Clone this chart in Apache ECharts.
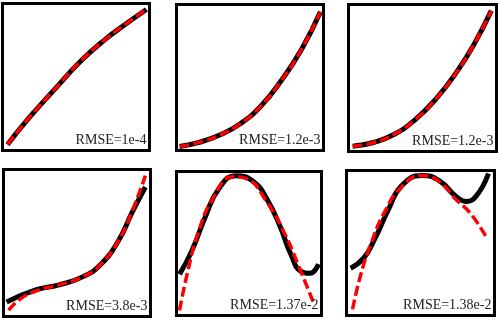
<!DOCTYPE html>
<html>
<head>
<meta charset="utf-8">
<script src="https://cdn.jsdelivr.net/npm/echarts@6/dist/echarts.min.js"></script>
<style>
  html, body { margin: 0; padding: 0; background: #fff; }
  #main { width: 498px; height: 320px; }
</style>
</head>
<body>
<div id="main"></div>
<script>
// curves, normalised to each box (x 0..1, y 0..1)
var truthA = [[0.034, 0.041], [0.186, 0.228], [0.359, 0.421], [0.531, 0.607], [0.703, 0.759], [0.841, 0.862], [0.979, 0.959]];
var fitA = [[0.034, 0.041], [0.186, 0.228], [0.359, 0.421], [0.531, 0.607], [0.703, 0.759], [0.841, 0.862], [0.979, 0.959]];

var truthB = [[0.021, 0.028], [0.154, 0.056], [0.294, 0.106], [0.434, 0.183], [0.573, 0.303], [0.713, 0.479], [0.853, 0.697], [0.979, 0.951]];
var fitB = [[0.021, 0.028], [0.154, 0.056], [0.294, 0.106], [0.434, 0.183], [0.573, 0.303], [0.713, 0.479], [0.853, 0.697], [0.979, 0.951]];

var truthC = [[0.028, 0.035], [0.174, 0.063], [0.313, 0.119], [0.451, 0.217], [0.590, 0.357], [0.729, 0.538], [0.847, 0.727], [0.965, 0.958]];
var fitC = [[0.028, 0.035], [0.174, 0.063], [0.313, 0.119], [0.451, 0.217], [0.590, 0.357], [0.729, 0.538], [0.847, 0.727], [0.965, 0.958]];

var truthD = [[0.021, 0.098], [0.224, 0.182], [0.385, 0.217], [0.545, 0.273], [0.664, 0.357], [0.783, 0.517], [0.874, 0.706], [0.965, 0.881]];
var fitD = [[0.035, 0.042], [0.105, 0.112], [0.224, 0.175], [0.385, 0.217], [0.545, 0.273], [0.664, 0.357], [0.783, 0.517], [0.874, 0.713], [0.965, 0.958]];

var truthE = [[0.021, 0.286], [0.106, 0.450], [0.199, 0.686], [0.291, 0.879], [0.411, 0.971], [0.532, 0.929], [0.624, 0.807], [0.716, 0.614], [0.787, 0.429], [0.858, 0.307], [0.922, 0.293], [0.979, 0.357]];
var fitE = [[0.021, 0.036], [0.078, 0.307], [0.149, 0.571], [0.248, 0.807], [0.390, 0.964], [0.482, 0.950], [0.624, 0.786], [0.745, 0.571], [0.837, 0.357], [0.943, 0.093]];

var truthF = [[0.028, 0.326], [0.117, 0.397], [0.186, 0.518], [0.283, 0.730], [0.372, 0.894], [0.510, 0.965], [0.628, 0.929], [0.738, 0.823], [0.807, 0.787], [0.876, 0.823], [0.959, 0.979]];
var fitF = [[0.041, 0.043], [0.097, 0.284], [0.166, 0.496], [0.255, 0.709], [0.372, 0.887], [0.510, 0.965], [0.628, 0.922], [0.738, 0.801], [0.834, 0.709], [0.945, 0.539]];

var labels = ['RMSE=1e-4', 'RMSE=1.2e-3', 'RMSE=1.2e-3', 'RMSE=3.8e-3', 'RMSE=1.37e-2', 'RMSE=1.38e-2'];

var truths = [truthA, truthB, truthC, truthD, truthE, truthF];
var fits = [fitA, fitB, fitC, fitD, fitE, fitF];

// box layout in pixels: left, top, width, height
var boxes = [
    [2.5, 3.5, 147, 147],
    [176.5, 4.5, 147, 146],
    [348.5, 4.5, 148, 147],
    [3.5, 169.5, 147, 147],
    [176.5, 171.5, 145, 144],
    [346.5, 170.5, 148, 145]
];

var grids = [], xAxes = [], yAxes = [], series = [], texts = [];

for (var i = 0; i < boxes.length; i++) {
    var b = boxes[i];
    grids.push({
        left: b[0], top: b[1], width: b[2], height: b[3],
        show: true, borderColor: '#000', borderWidth: 3, backgroundColor: '#fff'
    });
    xAxes.push({ type: 'value', gridIndex: i, min: 0, max: 1, show: false });
    yAxes.push({ type: 'value', gridIndex: i, min: 0, max: 1, show: false });

    series.push({
        type: 'line', xAxisIndex: i, yAxisIndex: i,
        data: truths[i], smooth: 0.5, symbol: 'none', clip: false,
        lineStyle: { color: '#000', width: 5, cap: 'butt' },
        z: 2
    });
    series.push({
        type: 'line', xAxisIndex: i, yAxisIndex: i,
        data: fits[i], smooth: 0.5, symbol: 'none', clip: false,
        lineStyle: { color: '#ff0000', width: 3.5, type: [10, 4], cap: 'butt' },
        z: 3
    });

    texts.push({
        type: 'text',
        x: b[0] + b[2] - 3,
        y: b[1] + b[3] - 3,
        z: 10,
        style: {
            text: labels[i],
            fill: '#222',
            font: '14px "Liberation Serif"',
            align: 'right',
            verticalAlign: 'bottom'
        }
    });
}

var chart = echarts.init(document.getElementById('main'));
chart.setOption({
    animation: false,
    backgroundColor: '#fff',
    grid: grids,
    xAxis: xAxes,
    yAxis: yAxes,
    series: series,
    graphic: texts
});
</script>
</body>
</html>
